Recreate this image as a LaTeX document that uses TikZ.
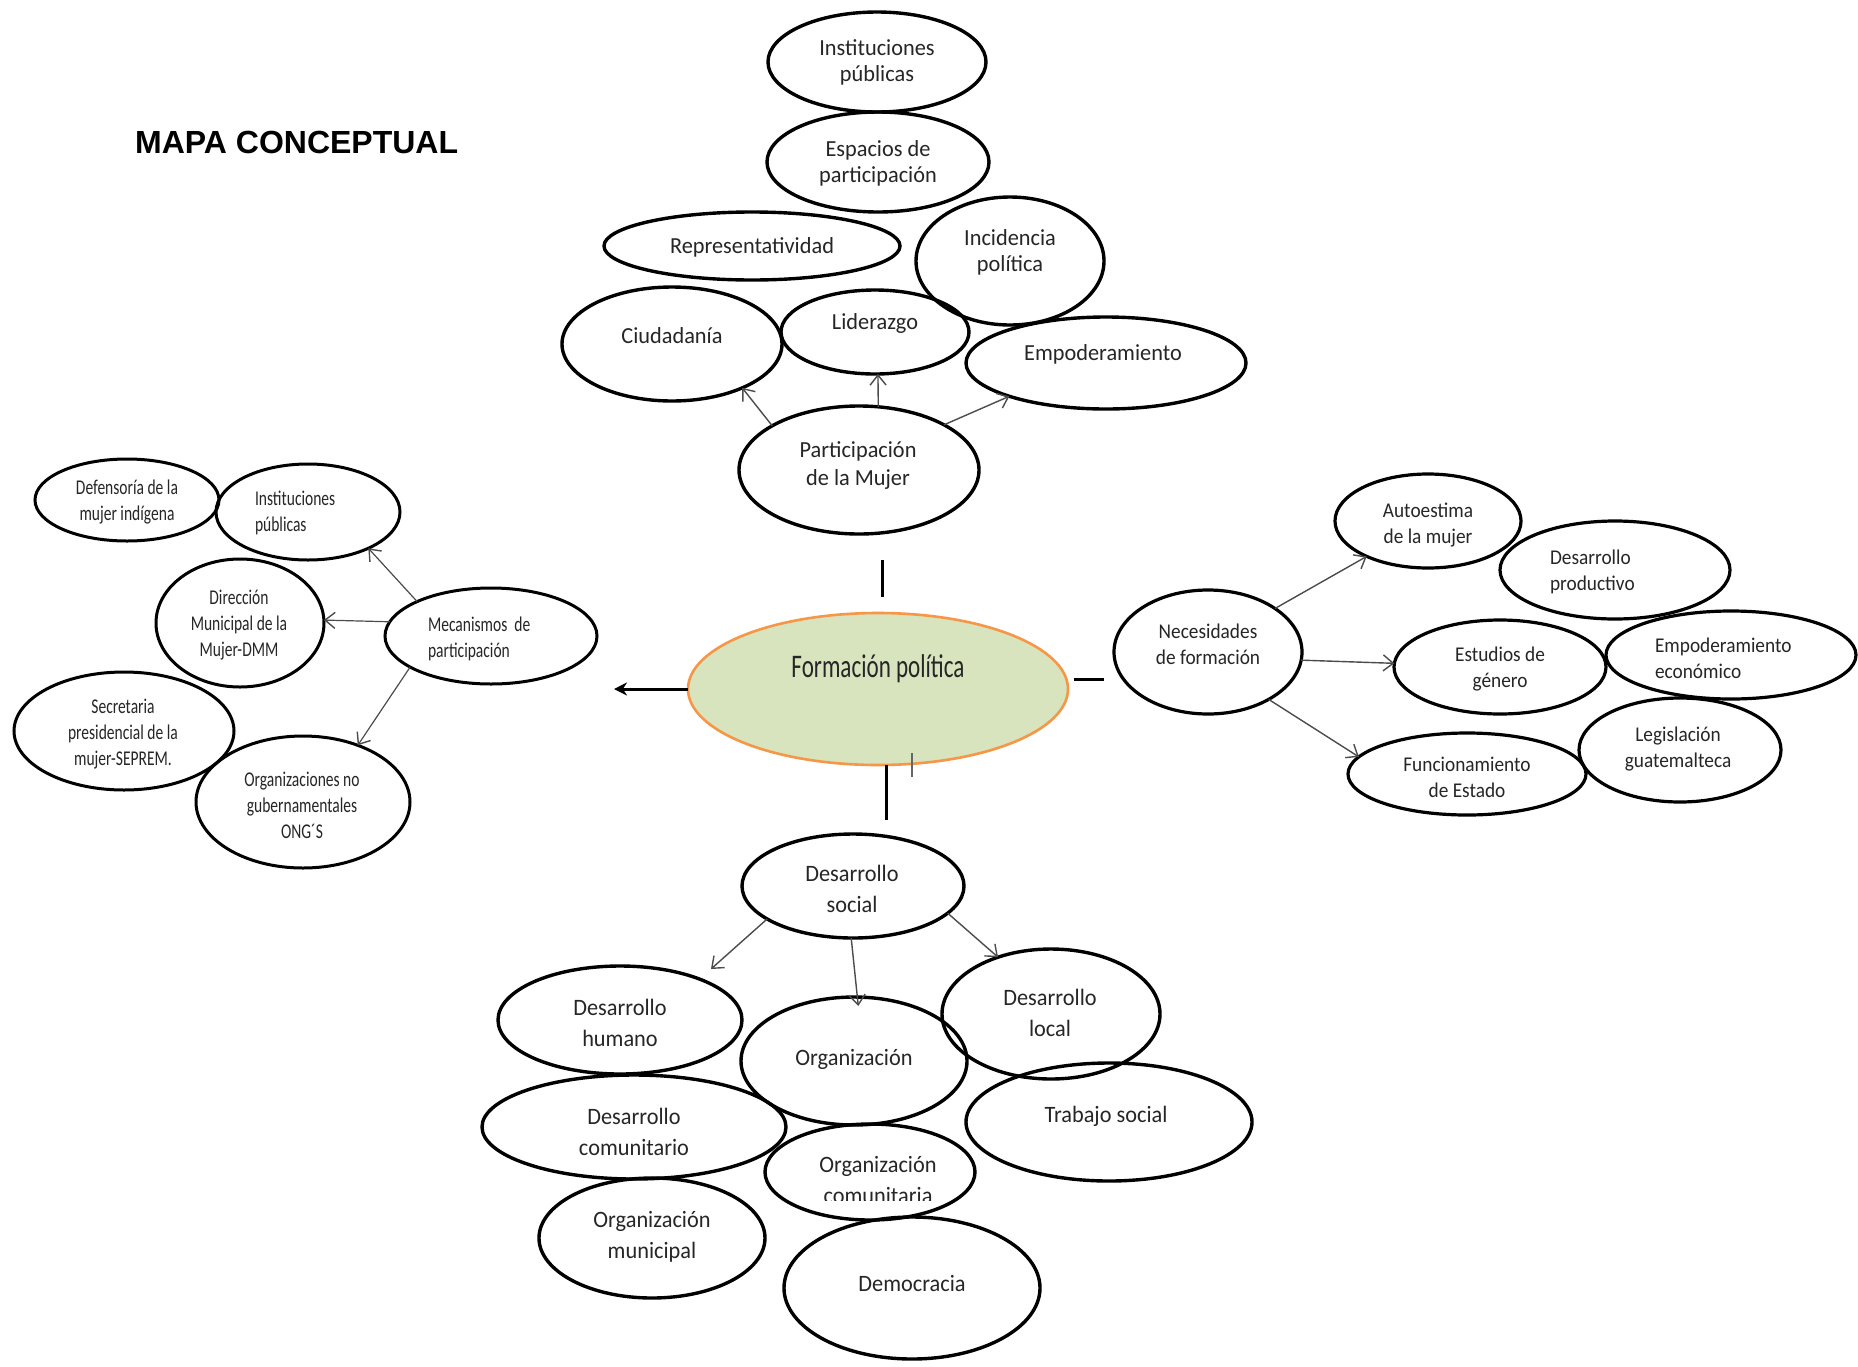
\documentclass[tikz,border=0pt]{standalone}
\usepackage{fontspec}
\setmainfont{Carlito}
\newfontfamily\ftop[FakeStretch=0.97]{Carlito}
\newfontfamily\fmid[FakeStretch=0.70]{Carlito}
\newfontfamily\fleft[FakeStretch=0.74]{Carlito}
\newfontfamily\fright[FakeStretch=0.92]{Carlito}
\newfontfamily\fbot[FakeStretch=0.95]{Carlito}
\newfontfamily\ftitle{Liberation Sans}
\usetikzlibrary{shapes.geometric,arrows.meta}
\definecolor{fpfill}{HTML}{D7E4BD}
\definecolor{fpline}{HTML}{F79646}
\definecolor{txtcol}{HTML}{262626}
\begin{document}
\begin{tikzpicture}[x=1pt,y=-1pt,
  ell/.style={ellipse, draw=black, line width=3.4pt, inner sep=0pt, outer sep=0pt},
  txt/.style={inner sep=0pt, outer sep=0pt, align=center, text=txtcol, yshift=-2.5pt},
  ttop/.style={txt, font=\ftop\fontsize{23}{26}\selectfont},
  tmid/.style={txt, font=\fmid\fontsize{33}{36}\selectfont},
  tleft/.style={txt, font=\fleft\fontsize{21}{26}\selectfont},
  tright/.style={txt, font=\fright\fontsize{21}{26}\selectfont},
  tbot/.style={txt, font=\fbot\fontsize{23.5}{31}\selectfont},
  arr/.style={draw=black!70, line width=1.4pt, -{Straight Barb[length=10pt,width=16pt,line width=1.4pt]}},
  stub/.style={draw=black, line width=3pt}]
\fill[white] (0,0) rectangle (1858,1366);
\path[use as bounding box] (0,0) rectangle (1858,1366);

% title
\node[anchor=base west, inner sep=0pt, font=\ftitle\bfseries\fontsize{32}{36}\selectfont] (title) at (135,153) {MAPA CONCEPTUAL};

% ---------- top cluster ----------
\node[ell, minimum width=218pt, minimum height=100pt] (ip1) at (877,62) {};
\node[ell, minimum width=222pt, minimum height=100pt] (esp) at (878,162) {};
\node[ell, minimum width=296pt, minimum height=68pt] (rep) at (752,246) {};
\node[ell, minimum width=188pt, minimum height=128pt] (inc) at (1010,261) {};
\node[ell, minimum width=220pt, minimum height=114pt] (ciu) at (672,344) {};
\node[ell, minimum width=188pt, minimum height=84pt] (lid) at (875,332) {};
\node[ell, minimum width=280pt, minimum height=92pt] (emp) at (1106,363) {};
\node[ell, minimum width=240pt, minimum height=128pt] (pm) at (859,470) {};

\node[ttop] (tip1) at (877,60) {Instituciones\\públicas};
\node[ttop] (tesp) at (878,161) {Espacios de\\participación};
\node[ttop] (trep) at (752,245) {Representatividad};
\node[ttop] (tinc) at (1010,250) {Incidencia\\política};
\node[ttop] (tciu) at (672,333) {Ciudadanía};
\node[ttop] (tlid) at (875,321) {Liderazgo};
\node[ttop] (temp) at (1103,352) {Empoderamiento};
\node[ttop, font=\ftop\fontsize{23}{28}\selectfont] (tpm) at (858,463) {Participación\\de la Mujer};

\draw[arr] (pm.153) -- (ciu.328);
\draw[arr] (pm.73) -- (lid.274);
\draw[arr] (pm.28) -- (emp.199);

% ---------- centre ----------
\node[ellipse, draw=fpline, fill=fpfill, line width=2.6pt, inner sep=0pt, outer sep=0pt,
      minimum width=380pt, minimum height=152pt] (fp) at (878,689) {};
\node[tmid] (tfp) at (878,666) {Formación política};

\coordinate (sTopA) at (882,560);
\coordinate (sTopB) at (882,597);
\draw[stub] (sTopA) -- (sTopB);
\coordinate (arrL) at (614,689);
\draw[stub, -{Stealth[length=13pt,width=13pt]}] (fp.west) -- (arrL);
\coordinate (sRA) at (1074,679);
\coordinate (sRB) at (1104,679);
\draw[stub] (sRA) -- (sRB);
\coordinate (sBB) at (886,820);
\draw[stub] (fp.south -| sBB) -- (sBB);
\coordinate (tickA) at (912,753);
\coordinate (tickB) at (912,777);
\draw[draw=black!60, line width=1.3pt] (tickA) -- (tickB);

% ---------- left cluster ----------
\node[ell, line width=3pt, minimum width=184pt, minimum height=82pt] (def) at (127,500) {};
\node[ell, line width=3pt, minimum width=184pt, minimum height=96pt] (ipl) at (308,512) {};
\node[ell, line width=3pt, minimum width=168pt, minimum height=128pt] (dmm) at (240,623) {};
\node[ell, line width=3pt, minimum width=212pt, minimum height=96pt] (mec) at (491,636) {};
\node[ell, line width=3pt, minimum width=220pt, minimum height=118pt] (sec) at (124,731) {};
\node[ell, line width=3pt, minimum width=214pt, minimum height=132pt] (ong) at (303,802) {};

\node[tleft] (tdef) at (127,500) {Defensoría de la\\mujer indígena};
\node[tleft, align=left, anchor=west] (tipl) at (255,510) {Instituciones\\públicas};
\node[tleft] (tdmm) at (239,623) {Dirección\\Municipal de la\\Mujer-DMM};
\node[tleft, align=left, anchor=west] (tmec) at (428,636) {Mecanismos\ \ de\\participación};
\node[tleft] (tsec) at (123,732) {Secretaria\\presidencial de la\\mujer-SEPREM.};
\node[tleft] (tong) at (302,803) {Organizaciones no\\gubernamentales\\ONG´S};

\draw[arr, line width=1.2pt] (mec.155) -- (ipl.329);
\draw[arr, line width=1.2pt] (mec.172) -- (dmm.2);
\draw[arr, line width=1.2pt] (mec.201) -- (ong.46);

% ---------- right cluster ----------
\node[ell, line width=3.2pt, minimum width=188pt, minimum height=124pt] (nec) at (1208,652) {};
\node[ell, line width=3.2pt, minimum width=186pt, minimum height=94pt] (aut) at (1428,521) {};
\node[ell, line width=3.2pt, minimum width=230pt, minimum height=98pt] (dp) at (1615,570) {};
\node[ell, line width=3.2pt, minimum width=212pt, minimum height=94pt] (eg) at (1500,667) {};
\node[ell, line width=3.2pt, minimum width=250pt, minimum height=88pt] (ee) at (1731,655) {};
\node[ell, line width=3.2pt, minimum width=238pt, minimum height=82pt] (fe) at (1467,774) {};
\node[ell, line width=3.2pt, minimum width=202pt, minimum height=104pt] (lg) at (1680,750) {};

\node[tright] (tnec) at (1208,642) {Necesidades\\de formación};
\node[tright] (taut) at (1428,523) {Autoestima\\de la mujer};
\node[tright, align=left, anchor=west] (tdp) at (1550,569) {Desarrollo\\productivo};
\node[tright] (teg) at (1500,667) {Estudios de\\género};
\node[tright, align=left, anchor=west] (tee) at (1655,656) {Empoderamiento\\económico};
\node[tright] (tfe) at (1467,775) {Funcionamiento\\de Estado};
\node[tright] (tlg) at (1678,747) {Legislación\\guatemalteca};

\draw[arr] (nec.33) -- (aut.210);
\draw[arr] (nec.355) -- (eg.178);
\draw[arr] (nec.322) -- (fe.171);

% ---------- bottom cluster ----------
\node[ell, minimum width=222pt, minimum height=104pt] (ds) at (853,886) {};
\node[ell, minimum width=244pt, minimum height=108pt] (dh) at (620,1020) {};
\node[ell, minimum width=226pt, minimum height=128pt] (org) at (854,1061) {};
\node[ell, minimum width=218pt, minimum height=130pt] (dl) at (1051,1014) {};
\node[ell, minimum width=304pt, minimum height=104pt] (dc) at (634,1127) {};
\node[ell, minimum width=286pt, minimum height=118pt] (ts) at (1109,1122) {};
\node[ell, minimum width=210pt, minimum height=96pt] (oc) at (870,1172) {};
\node[ell, minimum width=226pt, minimum height=120pt] (om) at (652,1238) {};
\node[ell, minimum width=256pt, minimum height=142pt] (dem) at (912,1288) {};

\node[tbot] (tds) at (852,886) {Desarrollo\\social};
\node[tbot] (tdh) at (620,1020) {Desarrollo\\humano};
\node[tbot] (torg) at (854,1057) {Organización};
\node[tbot] (tdl) at (1050,1010) {Desarrollo\\local};
\node[tbot] (tdc) at (634,1129) {Desarrollo\\comunitario};
\node[tbot] (tts) at (1106,1114) {Trabajo social};
\begin{scope}
  \clip (760,1130) rectangle (990,1200);
  \node[tbot] (toc) at (878,1177) {Organización\\comunitaria};
\end{scope}
\node[tbot] (tom) at (652,1234) {Organización\\municipal};
\node[tbot] (tdem) at (912,1281) {Democracia};

\coordinate (dhin) at (711,969);
\draw[arr] (ds.201) -- (dhin);
\draw[arr, shorten >=-9pt] (ds.268) -- (org.87);
\draw[arr] (ds.344) -- (dl.133);
\end{tikzpicture}
\end{document}
